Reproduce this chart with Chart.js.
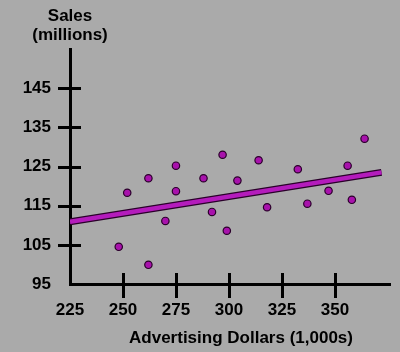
<!DOCTYPE html>
<html>
<head>
<meta charset="utf-8">
<script src="https://cdn.jsdelivr.net/npm/chart.js@4.4.0/dist/chart.umd.min.js"></script>
<style>
  html, body { margin: 0; padding: 0; background: #aaaaaa; }
  #wrap { width: 400px; height: 352px; position: relative; }
</style>
</head>
<body>
<div id="wrap"><canvas id="salesChart"></canvas></div>
<script>
// scatter data
const adDollars = [248, 252, 262, 262, 270, 275, 275, 288, 292, 297, 299, 304, 314, 318, 332.5, 337, 347, 356, 358, 364];
const sales = [104.5, 118.3, 99.9, 122, 111.1, 125.2, 118.7, 122, 113.4, 128, 108.6, 121.4, 126.6, 114.6, 124.3, 115.5, 118.8, 125.2, 116.5, 132.1];

// trend line end points
const trendX = [225, 372];
const trendY = [110.9, 123.5];

// ticks
const xTickMarks = [250, 275, 300, 325, 350];
const yTickMarks = [105, 115, 125, 135, 145];
const xLabelMax = 350;
const yLabelMax = 145;

const xTitle = 'Advertising Dollars (1,000s)';
const yTitle = ['Sales', '(millions)'];

const FAMILY = '"Liberation Sans", Arial, sans-serif';
const FONT = 'bold 17px ' + FAMILY;
const PURPLE = '#a812ac';
const LINE_PURPLE = '#b41cbc';
const DARK = '#2a002a';

const points = adDollars.map((x, i) => ({ x: x, y: sales[i] }));
const trend = trendX.map((x, i) => ({ x: x, y: trendY[i] }));

const axisDecor = {
    id: 'axisDecor',
    beforeDatasetsDraw(chart) {
        const ctx = chart.ctx;
        const xs = chart.scales.x, ys = chart.scales.y;
        const area = chart.chartArea;
        ctx.save();
        ctx.strokeStyle = '#000';
        ctx.lineWidth = 3;
        ctx.beginPath();
        yTickMarks.forEach(v => {
            const py = Math.round(ys.getPixelForValue(v)) + 0.5;
            ctx.moveTo(area.left - 12, py);
            ctx.lineTo(area.left + 11, py);
        });
        xTickMarks.forEach(v => {
            const px = Math.round(xs.getPixelForValue(v)) + 0.5;
            ctx.moveTo(px, area.bottom - 11);
            ctx.lineTo(px, area.bottom + 14);
        });
        ctx.stroke();
        ctx.restore();
    },
    afterDraw(chart) {
        const ctx = chart.ctx;
        const area = chart.chartArea;
        ctx.save();
        ctx.fillStyle = '#000';
        ctx.font = FONT;
        ctx.textAlign = 'center';
        ctx.textBaseline = 'middle';
        ctx.fillText(yTitle[0], area.left, 16);
        ctx.fillText(yTitle[1], area.left, 35);
        ctx.fillText(xTitle, 241, 338);
        ctx.restore();
    }
};

const ctx = document.getElementById('salesChart').getContext('2d');
const salesChart = new Chart(ctx, {
    type: 'scatter',
    data: {
        datasets: [
            {
                label: 'Sales',
                data: points,
                backgroundColor: PURPLE,
                borderColor: DARK,
                borderWidth: 1.2,
                pointRadius: 3.7,
                order: 0
            },
            {
                label: 'Trend',
                data: trend,
                showLine: true,
                borderColor: LINE_PURPLE,
                borderWidth: 4.5,
                pointRadius: 0,
                borderCapStyle: 'butt',
                order: 1
            },
            {
                label: 'Trend edge',
                data: trend,
                showLine: true,
                borderColor: DARK,
                borderWidth: 7,
                pointRadius: 0,
                borderCapStyle: 'butt',
                order: 2
            }
        ]
    },
    options: {
        responsive: true,
        maintainAspectRatio: false,
        animation: false,
        layout: {
            padding: { top: 49, right: 10, left: 0, bottom: 0 }
        },
        plugins: {
            legend: { display: false },
            tooltip: { enabled: false }
        },
        scales: {
            x: {
                type: 'linear',
                min: 225,
                max: 376,
                afterFit(scale) { scale.height = 68; },
                grid: { display: false },
                border: { display: true, color: '#000', width: 3 },
                ticks: {
                    stepSize: 25,
                    padding: 8,
                    color: '#000',
                    font: { family: FAMILY, size: 17, weight: 700 },
                    callback: v => (v > xLabelMax ? null : v)
                }
            },
            y: {
                type: 'linear',
                min: 95,
                max: 155,
                afterFit(scale) { scale.width = 70; },
                grid: { display: false },
                border: { display: true, color: '#000', width: 3 },
                ticks: {
                    stepSize: 10,
                    padding: 11,
                    color: '#000',
                    font: { family: FAMILY, size: 17, weight: 700 },
                    callback: v => (v > yLabelMax ? null : v)
                }
            }
        }
    },
    plugins: [axisDecor]
});
</script>
</body>
</html>
